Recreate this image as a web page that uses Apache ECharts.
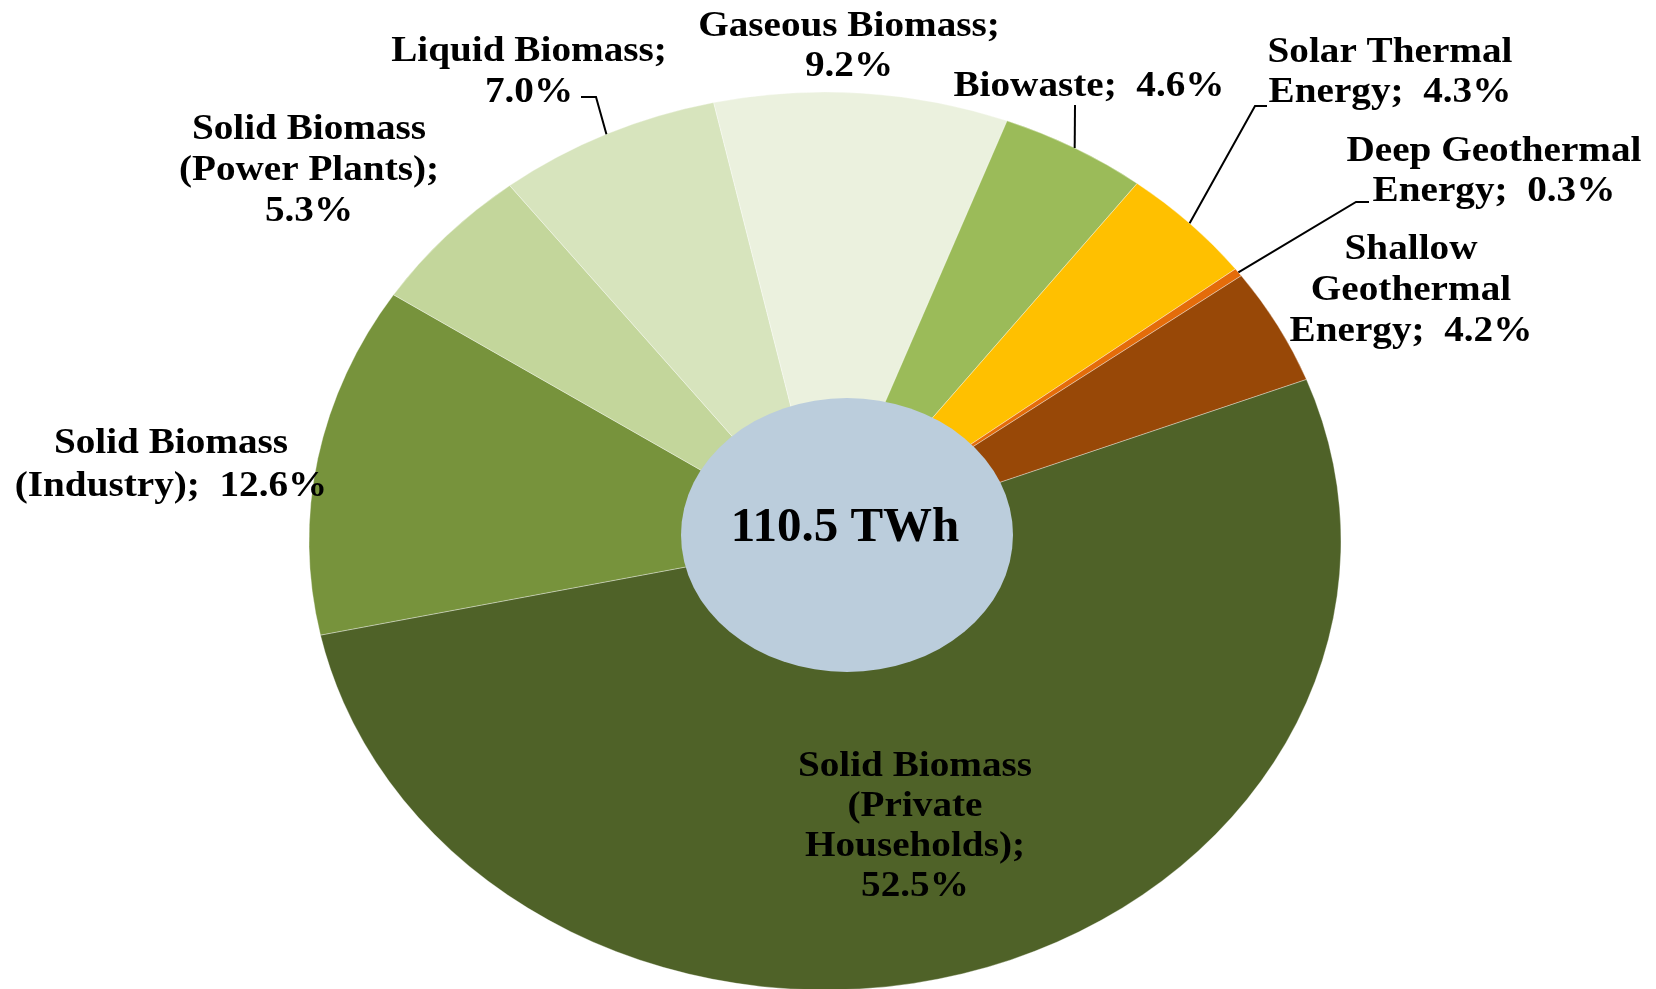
<!DOCTYPE html>
<html>
<head>
<meta charset="utf-8">
<script src="https://cdn.jsdelivr.net/npm/echarts@6/dist/echarts.min.js"></script>
<style>
  html, body { margin: 0; padding: 0; background: #fff; }
  #chart { width: 1656px; height: 989px; }
</style>
</head>
<body>
<div id="chart"></div>
<script>
// data
const categories = [
  'Solid Biomass (Private Households)',
  'Solid Biomass (Industry)',
  'Solid Biomass (Power Plants)',
  'Liquid Biomass',
  'Gaseous Biomass',
  'Biowaste',
  'Solar Thermal Energy',
  'Deep Geothermal Energy',
  'Shallow Geothermal Energy'
];
const shares = [52.5, 12.6, 5.3, 7.0, 9.2, 4.6, 4.3, 0.3, 4.2];
const totalTWh = 110.5;

// styles
const colors = ['#4F6228', '#77933C', '#C3D69B', '#D7E4BD', '#EBF1DE', '#9BBB59', '#FFC000', '#E46C0A', '#984807'];
const FONT = '"Liberation Serif", "Times New Roman", serif';

// elliptical pie geometry (px)
const pie = { cx: 825, cy: 541, rx: 516, ry: 449, start: 68.9 }; // start: deg clockwise from 12 o'clock

// label layout: where each label sits and how it wraps, {p} = percentage
const labelLayout = [
  { x: 915, y: 827, lh: 40, text: 'Solid Biomass\n(Private\nHouseholds);\n{p}' },
  { x: 171, y: 465, lh: 43, text: 'Solid Biomass\n(Industry);  {p}' },
  { x: 309, y: 171, lh: 41, text: 'Solid Biomass\n(Power Plants);\n{p}' },
  { x: 529, y: 72, lh: 41, text: 'Liquid Biomass;\n{p}', bends: [[596, 97], [581, 97]] },
  { x: 849, y: 47, lh: 40, text: 'Gaseous Biomass;\n{p}' },
  { x: 1089, y: 87, lh: 40, text: 'Biowaste;  {p}', bends: [[1075, 105]] },
  { x: 1390, y: 73, lh: 40, text: 'Solar Thermal\nEnergy;  {p}', bends: [[1255, 106], [1267, 106]] },
  { x: 1494, y: 172, lh: 40, text: 'Deep Geothermal\nEnergy;  {p}', bends: [[1356, 202], [1369, 202]] },
  { x: 1411, y: 291, lh: 41, text: 'Shallow\nGeothermal\nEnergy;  {p}' }
];

const total = shares.reduce((a, b) => a + b, 0);
const rad = d => d * Math.PI / 180;

function renderItem(params, api) {
  const i = params.dataIndex;
  let before = 0;
  for (let k = 0; k < i; k++) before += shares[k];
  const a0 = pie.start + before / total * 360;
  const a1 = a0 + api.value(0) / total * 360;
  const mid = rad((a0 + a1) / 2);
  const lay = labelLayout[i];
  const children = [{
    type: 'sector',
    x: pie.cx, y: pie.cy,
    scaleX: pie.rx / pie.ry,
    shape: { cx: 0, cy: 0, r: pie.ry, r0: 0, startAngle: rad(a0 - 90), endAngle: rad(a1 - 90), clockwise: true },
    style: { fill: colors[i], stroke: 'rgba(255,255,255,0.45)', lineWidth: 0.7 }
  }];
  if (lay.bends) {
    const edge = [pie.cx + pie.rx * Math.sin(mid), pie.cy - pie.ry * Math.cos(mid)];
    children.push({
      type: 'polyline', z2: 10,
      shape: { points: [edge].concat(lay.bends) },
      style: { stroke: '#000', lineWidth: 2, fill: null }
    });
  }
  children.push({
    type: 'text', z2: 20,
    x: lay.x, y: lay.y, scaleX: 1.12,
    style: {
      text: lay.text.replace('{p}', api.value(0).toFixed(1) + '%'),
      fill: '#000', fontFamily: FONT, fontWeight: 'bold', fontSize: 35,
      lineHeight: lay.lh, align: 'center', verticalAlign: 'middle'
    }
  });
  return { type: 'group', children: children };
}

const chart = echarts.init(document.getElementById('chart'));
chart.setOption({
  animation: false,
  series: [{
    type: 'custom',
    coordinateSystem: 'none',
    silent: true,
    renderItem: renderItem,
    data: shares.map((v, i) => ({ name: categories[i], value: v }))
  }],
  graphic: [
    {
      type: 'circle', z: 100,
      x: 847, y: 535, scaleX: 166 / 137,
      shape: { cx: 0, cy: 0, r: 137 },
      style: { fill: '#BBCDDC' }
    },
    {
      type: 'text', z: 101,
      x: 845, y: 528,
      style: {
        text: totalTWh.toFixed(1) + ' TWh',
        fill: '#000', fontFamily: FONT, fontWeight: 'bold', fontSize: 49,
        align: 'center', verticalAlign: 'middle'
      }
    }
  ]
});
</script>
</body>
</html>
